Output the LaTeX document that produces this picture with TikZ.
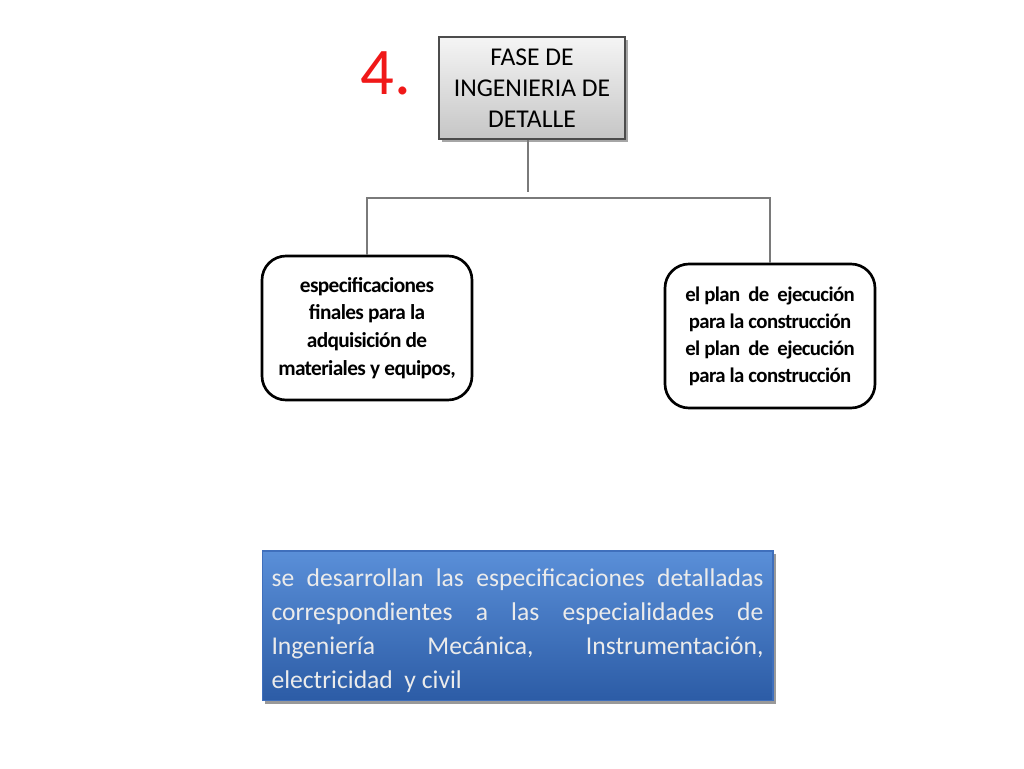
\documentclass[tikz,border=0pt]{standalone}
\usepackage{fontspec}
\setmainfont{Carlito}
\usetikzlibrary{shadows,calc}
\definecolor{bluetop}{HTML}{5A8FD8}
\definecolor{bluebot}{HTML}{2C5CA6}
\definecolor{blueedge}{HTML}{3F6FBC}
\definecolor{numred}{HTML}{F01818}
\definecolor{linegray}{HTML}{7A7A7A}
\tikzset{
  headbox/.style={draw=black!70, line width=0.8pt, top color=gray!8, bottom color=gray!45,
    minimum width=139.5pt, minimum height=76.5pt, align=center, inner sep=0pt,
    font=\fontsize{19.2}{23.3}\selectfont,
    drop shadow={shadow xshift=2pt, shadow yshift=-2pt, opacity=0.35, fill=black}},
  itembox/.style={draw=black, line width=2pt, rounded corners=18pt, fill=white,
    minimum width=157.5pt, minimum height=108pt, align=center, inner sep=0pt,
    font=\fontsize{16}{20.8}\selectfont\bfseries},
  notebox/.style={draw=blueedge, line width=1pt, top color=bluetop, bottom color=bluebot,
    minimum width=383pt, minimum height=112pt, inner sep=0pt, text=white!92!black,
    drop shadow={shadow xshift=2pt, shadow yshift=-2.5pt, opacity=0.4, fill=black}},
  conn/.style={draw=linegray, line width=1.2pt},
  numlabel/.style={text=numred, font=\fontsize{50}{50}\selectfont, inner sep=0pt}
}
\newcommand{\tightline}[1]{{\addfontfeatures{LetterSpace=-3}#1}}
\begin{document}
\begin{tikzpicture}[x=0.75pt,y=-0.75pt]
\useasboundingbox (0,0) rectangle (1024,768);
\node[numlabel] (num) at (386,73) {4.};
\node[headbox] (head) at (532,88) {FASE DE\\INGENIERIA DE\\DETALLE};
\node[itembox] (left) at (367,328) {\tightline{especificaciones}\\\tightline{finales para la}\\\tightline{adquisición de}\\\tightline{materiales y equipos,}};
\node[itembox, font=\fontsize{15.6}{20.3}\selectfont\bfseries] (right) at (770,336) {\tightline{el plan\ \ de\ \ ejecución}\\\tightline{para la construcción}\\\tightline{el plan\ \ de\ \ ejecución}\\\tightline{para la construcción}};
\node[notebox] (note) at (517.5,625.5) {%
  \begin{minipage}{369pt}\fontsize{19.2}{25.5}\selectfont
  \vspace*{7.5pt}
  \hbox to \linewidth{se\hfill desarrollan\hfill las\hfill especificaciones\hfill detalladas}
  \hbox to \linewidth{correspondientes\hfill a\hfill las\hfill especialidades\hfill de}
  \hbox to \linewidth{Ingeniería\hfill Mecánica,\hfill Instrumentación,}
  \hbox to \linewidth{electricidad\ \ y civil\hfill}
  \end{minipage}};
\coordinate (stem) at (528,192);
\draw[conn] (head.south -| stem) -- (stem);
\draw[conn] (left.north) -- (367,198) -| (right.north);
\end{tikzpicture}
\end{document}
